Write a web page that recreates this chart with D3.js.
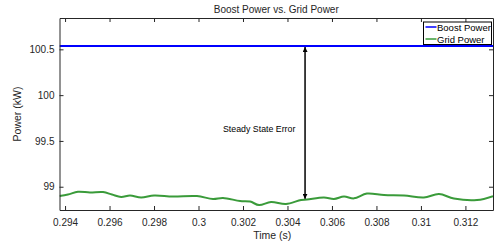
<!DOCTYPE html>
<html>
<head>
<meta charset="utf-8">
<script src="https://cdn.jsdelivr.net/npm/d3@7"></script>
<style>
  html, body { margin: 0; padding: 0; background: #fff; }
  svg { display: block; font-family: "Liberation Sans", Arial, Helvetica, sans-serif; }
</style>
</head>
<body>
<div id="chart"></div>
<script>
// Data
const xTicks = [0.294, 0.296, 0.298, 0.3, 0.302, 0.304, 0.306, 0.308, 0.31, 0.312];
const yTicks = [99, 99.5, 100, 100.5];
const boostTime = [0.29375, 0.31324];
const boostPower = [100.536, 100.536];
const gridTime = [0.29375, 0.29413, 0.29458, 0.29512, 0.29571, 0.29611, 0.29652, 0.29692, 0.29742, 0.298,
    0.29885, 0.29993, 0.30065, 0.3011, 0.30187, 0.30232, 0.30272, 0.30326, 0.30393, 0.30461,
    0.30488, 0.30564, 0.30609, 0.30654, 0.30699, 0.30757, 0.30834, 0.30924, 0.31013, 0.31081,
    0.31148, 0.31252, 0.31324];
const gridPower = [98.898, 98.915, 98.945, 98.937, 98.942, 98.915, 98.888, 98.904, 98.882, 98.904,
    98.893, 98.898, 98.866, 98.877, 98.844, 98.838, 98.800, 98.833, 98.811, 98.855,
    98.860, 98.882, 98.866, 98.893, 98.873, 98.926, 98.909, 98.904, 98.882, 98.920,
    98.871, 98.855, 98.898];
const arrowTime = 0.30479;
const arrowGrid = 98.858;

const width = 494, height = 244;
const margin = {top: 18, right: 1, bottom: 34, left: 59.5};
const axisColor = '#262626';

const svg = d3.select('#chart').append('svg')
    .attr('width', width)
    .attr('height', height);

const x = d3.scaleLinear().domain([0.29375, 0.31324]).range([margin.left, width - margin.right]);
const y = d3.scaleLinear().domain([98.746, 100.842]).range([height - margin.bottom, margin.top]);

const defs = svg.append('defs');
defs.append('clipPath').attr('id', 'clip')
    .append('rect')
    .attr('x', margin.left).attr('y', margin.top)
    .attr('width', width - margin.right - margin.left)
    .attr('height', height - margin.bottom - margin.top);
defs.append('marker')
    .attr('id', 'head')
    .attr('viewBox', '0 0 10 10')
    .attr('refX', 10).attr('refY', 5)
    .attr('markerWidth', 5).attr('markerHeight', 5)
    .attr('markerUnits', 'userSpaceOnUse')
    .attr('orient', 'auto-start-reverse')
    .append('path').attr('d', 'M0,0L10,5L0,10Z').attr('fill', '#000');

// Lines
const plot = svg.append('g').attr('clip-path', 'url(#clip)');
const line = d3.line().x(d => x(d[0])).y(d => y(d[1]));

plot.append('path')
    .datum(gridTime.map((t, i) => [t, gridPower[i]]))
    .attr('fill', 'none')
    .attr('stroke', '#3a9b3a')
    .attr('stroke-width', 2)
    .attr('d', line.curve(d3.curveCatmullRom));

plot.append('path')
    .datum(boostTime.map((t, i) => [t, boostPower[i]]))
    .attr('fill', 'none')
    .attr('stroke', '#0000ff')
    .attr('stroke-width', 2)
    .attr('d', line.curve(d3.curveLinear));

// Axes (ticks inward, mirrored on top / right)
const fmt = v => String(+v.toFixed(3));
const gx = svg.append('g').attr('transform', `translate(0,${height - margin.bottom})`)
    .call(d3.axisBottom(x).tickValues(xTicks).tickFormat(fmt).tickSizeInner(-4).tickSizeOuter(0).tickPadding(9));
const gxTop = svg.append('g').attr('transform', `translate(0,${margin.top})`)
    .call(d3.axisTop(x).tickValues(xTicks).tickFormat('').tickSizeInner(-4).tickSizeOuter(0));
const gy = svg.append('g').attr('transform', `translate(${margin.left},0)`)
    .call(d3.axisLeft(y).tickValues(yTicks).tickFormat(fmt).tickSizeInner(-4).tickSizeOuter(0).tickPadding(5));
const gyRight = svg.append('g').attr('transform', `translate(${width - margin.right},0)`)
    .call(d3.axisRight(y).tickValues(yTicks).tickFormat('').tickSizeInner(-4).tickSizeOuter(0));

[gx, gxTop, gy, gyRight].forEach(g => {
    g.select('.domain').attr('stroke', axisColor).attr('stroke-width', 1);
    g.selectAll('.tick line').attr('stroke', axisColor);
    g.selectAll('.tick text')
        .attr('fill', axisColor)
        .style('font-size', '10px')
        .style('font-family', '"Liberation Sans", Arial, sans-serif');
});

// Titles
svg.append('text')
    .attr('x', (margin.left + width - margin.right) / 2)
    .attr('y', 13)
    .attr('text-anchor', 'middle')
    .attr('fill', axisColor)
    .style('font-size', '10px')
    .text('Boost Power vs. Grid Power');

svg.append('text')
    .attr('x', (margin.left + width - margin.right) / 2 - 4)
    .attr('y', 238.5)
    .attr('text-anchor', 'middle')
    .attr('fill', axisColor)
    .style('font-size', '10.5px')
    .text('Time (s)');

svg.append('text')
    .attr('transform', `translate(21,${(margin.top + height - margin.bottom) / 2}) rotate(-90)`)
    .attr('text-anchor', 'middle')
    .attr('fill', axisColor)
    .style('font-size', '10.5px')
    .text('Power (kW)');

// Annotation arrow
svg.append('line')
    .attr('x1', x(arrowTime)).attr('x2', x(arrowTime))
    .attr('y1', y(boostPower[0]) + 1).attr('y2', y(arrowGrid) - 1)
    .attr('stroke', '#000')
    .attr('stroke-width', 1.5)
    .attr('marker-start', 'url(#head)')
    .attr('marker-end', 'url(#head)');

svg.append('text')
    .attr('x', 223)
    .attr('y', 131.5)
    .attr('fill', '#000')
    .style('font-size', '8.8px')
    .text('Steady State Error');

// Legend
const legend = svg.append('g').attr('transform', 'translate(423.5,22)');
legend.append('rect')
    .attr('width', 68).attr('height', 22.5)
    .attr('fill', '#fff')
    .attr('stroke', '#000')
    .attr('stroke-width', 1);
const legendItems = [['Boost Power', '#0000ff'], ['Grid Power', '#3a9b3a']];
legendItems.forEach((d, i) => {
    const row = legend.append('g').attr('transform', `translate(0,${5 + i * 12})`);
    row.append('line')
        .attr('x1', 2).attr('x2', 13)
        .attr('stroke', d[1]).attr('stroke-width', 1.5);
    row.append('text')
        .attr('x', 13.5).attr('y', 3.5)
        .attr('fill', '#000')
        .style('font-size', '9.5px')
        .text(d[0]);
});
</script>
</body>
</html>
